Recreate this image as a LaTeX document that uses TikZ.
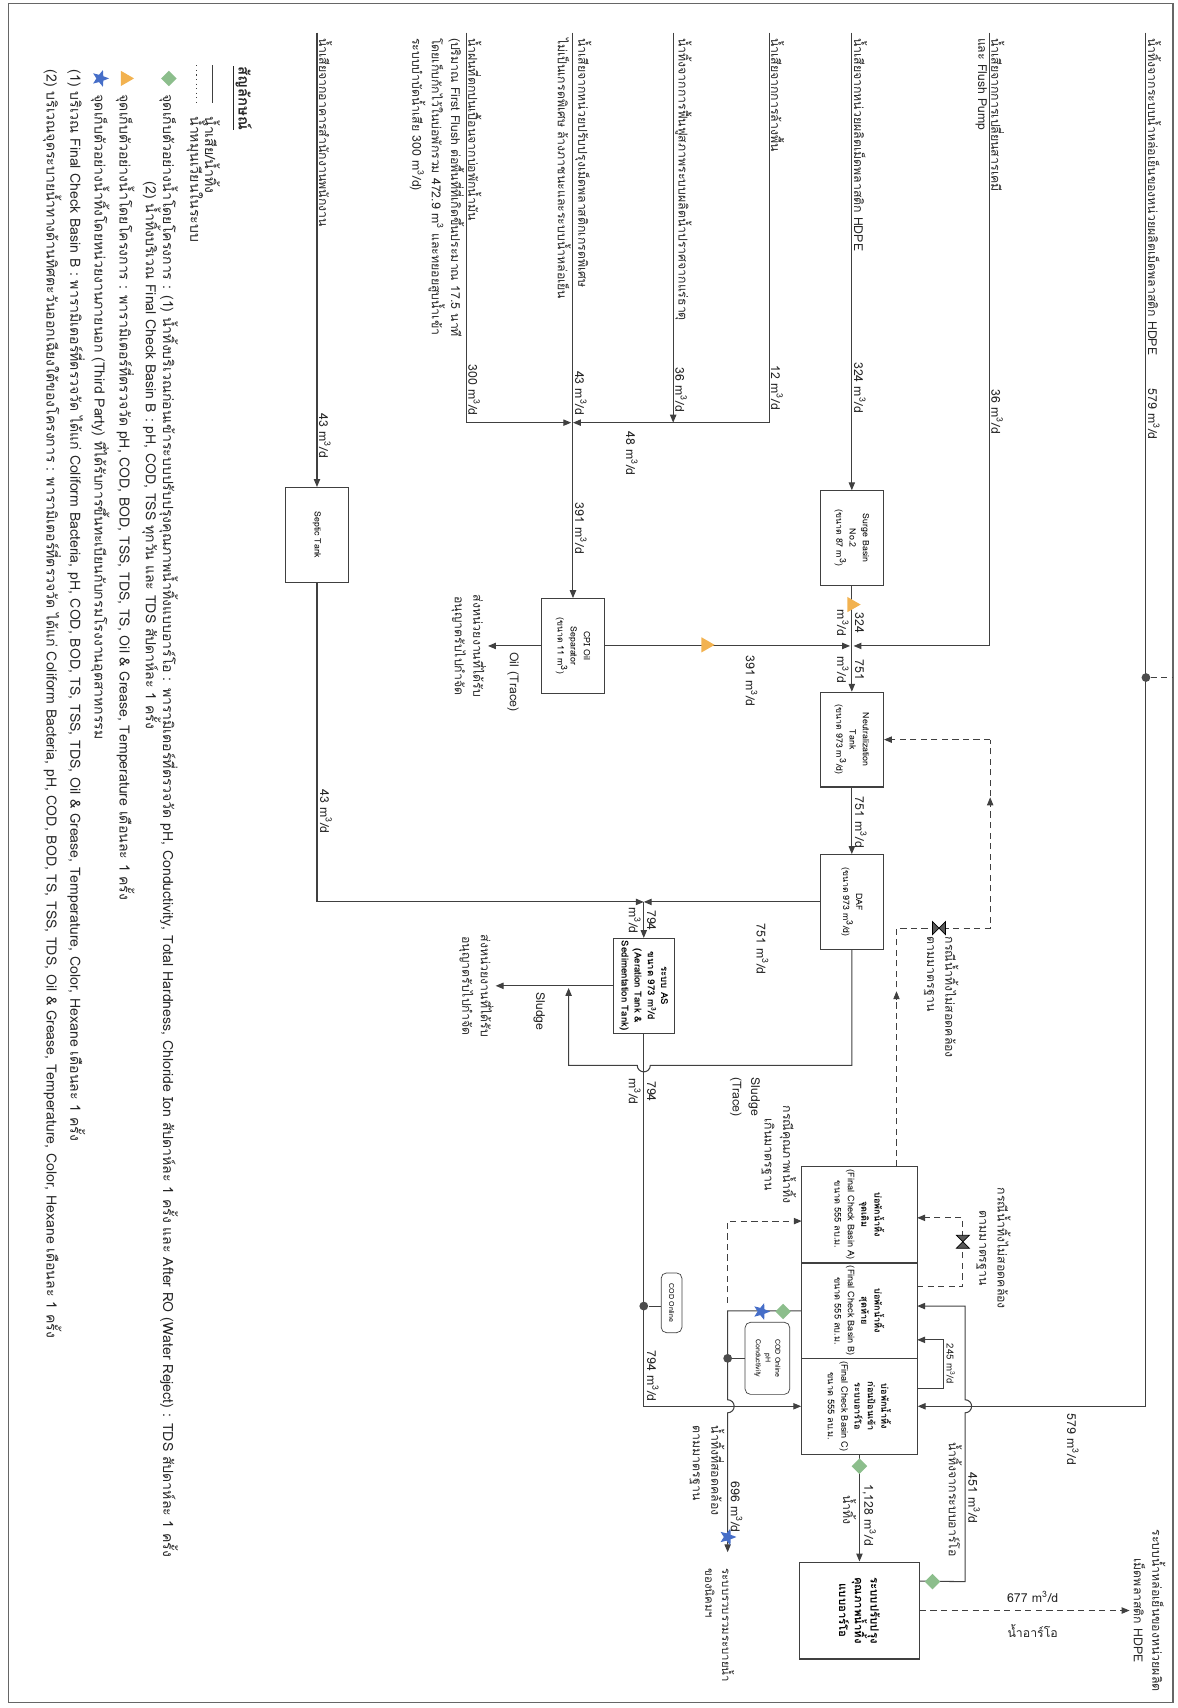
\documentclass[tikz,border=0pt]{standalone}
\usepackage{fontspec}
\setmainfont[Script=Thai]{Loma}
\usetikzlibrary{arrows.meta,shapes.geometric,calc}

\definecolor{sampgreen}{RGB}{140,190,140}
\definecolor{samporange}{RGB}{242,178,80}
\definecolor{sampblue}{RGB}{70,110,200}
\newcommand{\mcd}{m\textsuperscript{3}/d}
\newcommand{\cum}{m\textsuperscript{3}}

\tikzset{
  pipe/.style={draw=black!75, line width=0.6pt},
  flow/.style={pipe, -{Triangle[length=4.5pt,width=3.6pt]}},
  recyc/.style={pipe, dash pattern=on 3.5pt off 2.5pt},
  recflow/.style={recyc, -{Triangle[length=4.5pt,width=3.6pt]}},
  tank/.style={draw=black!75, line width=0.6pt, align=center, inner sep=1pt,
    font=\fontsize{5}{7.5}\selectfont, minimum width=53.9pt, minimum height=36pt},
  basin/.style={tank, font=\fontsize{5.2}{7.6}\selectfont, minimum width=54.6pt, minimum height=65.7pt},
  probe/.style={draw=black!75, rounded corners=3pt, align=center, inner sep=1pt,
    font=\fontsize{4}{5.5}\selectfont},
  txt/.style={inner sep=1pt, align=center, text=black!85, font=\fontsize{7}{10.5}\selectfont},
  small/.style={txt, font=\fontsize{5.5}{7.5}\selectfont},
  legend/.style={txt, font=\fontsize{8}{10}\selectfont},
  gdia/.style={diamond, fill=sampgreen, minimum size=9pt, inner sep=0pt},
  otri/.style={regular polygon, regular polygon sides=3, fill=samporange, minimum size=10pt, inner sep=0pt},
  bstar/.style={star, star points=5, star point ratio=2.3, fill=sampblue, minimum size=10pt, inner sep=0pt},
  dot/.style={circle, fill=black!70, minimum size=5pt, inner sep=0pt},
  valve/.style={fill=black!65},
}

\begin{document}
\begin{tikzpicture}[x=0.62pt, y=0.62pt]
\useasboundingbox (0,0) rectangle (1081,-1568);
\begin{scope}[rotate=-90, transform shape]
% frame
\draw[black!60, line width=0.8pt] (3,8) rectangle (1563,1077);

% tanks
\node[tank] (surge) at (494,782) {Surge Basin\\No.2\\(ขนาด 87 \cum)};
\node[tank] (neut) at (679,782) {Neutralization\\Tank\\(ขนาด 973 \mcd)};
\node[tank] (daf) at (828,782) {DAF\\(ขนาด 973 \mcd)};
\node[tank] (cpi) at (593,526) {CPI Oil\\Separator\\(ขนาด 11 \cum)};
\node[tank] (septic) at (491,291) {Septic Tank};
\node[tank, minimum height=34.7pt, font=\bfseries\fontsize{5.5}{7.5}\selectfont] (as) at (905,591)
  {ระบบ AS\\ขนาด 973 \mcd\\(Aeration Tank \&\\Sedimentation Tank)};
\node[basin] (bA) at (1115,789) {\textbf{บ่อพักน้ำทิ้ง}\\\textbf{จุดเดิม}\\(Final Check Basin A)\\ขนาด 555 ลบ.ม.};
\node[basin] (bB) at (1203.5,789) {\textbf{บ่อพักน้ำทิ้ง}\\\textbf{สุดท้าย}\\(Final Check Basin B)\\ขนาด 555 ลบ.ม.};
\node[basin] (bC) at (1291,789) {\textbf{บ่อพักน้ำทิ้ง}\\\textbf{ก่อนป้อนเข้า}\\\textbf{ระบบอาร์โอ}\\(Final Check Basin C)\\ขนาด 555 ลบ.ม.};
\node[basin, minimum width=55.2pt, minimum height=68.2pt, font=\bfseries\fontsize{6.5}{9}\selectfont] (ro) at (1478.5,789)
  {ระบบปรับปรุง\\คุณภาพน้ำทิ้ง\\แบบอาร์โอ};
\node[probe, minimum width=34pt, minimum height=11.8pt] (cod1) at (1196,616.5) {COD Online};
\node[probe, minimum width=41pt, minimum height=25.4pt] (cod2) at (1247,704.5) {COD Online\\pH\\Conductivity};

% junctions
\coordinate (j1) at (593,782);
\coordinate (j2) at (828,591);
\coordinate (j3) at (388,526);

% input lines
\coordinate (s1) at (30,1052);
\coordinate (s2) at (30,908);
\coordinate (s3) at (30,782);
\coordinate (s4) at (30,706);
\coordinate (s5) at (30,618);
\coordinate (s6) at (30,526);
\coordinate (s7) at (30,428);
\coordinate (s8) at (30,291);

\draw[flow] (s1) -| (bC.north);
\node[dot] (p1) at (622,1052) {};
\draw[recyc] (p1) -- (622,1077);
\draw[flow, shorten >=1pt] (s2) -| (j1);
\draw[flow] (s3) -- (surge.west);
\draw[pipe] (surge.east) -- (j1);
\draw[flow] (j1) -- (neut.west);
\draw[flow, shorten >=1pt] (cpi.north) -- (j1);
\draw[flow] (s4) -- (388,706) -- (j3);
\draw[flow] (s5) -- (388,618);
\draw[flow] (s6) -- (cpi.west);
\draw[flow, shorten >=1pt] (s7) -| (j3);
\draw[flow] (s8) -- (septic.west);
\draw[flow] (septic.east) -| (j2);
\draw[flow] (neut.east) -- (daf.west);
\draw[flow] (daf.south) -- (j2);
\draw[flow] (j2) -- (as.west);

% oil and sludge
\coordinate (oil) at (593,448);
\coordinate (sl) at (905,455);
\draw[flow] (cpi.south) -- (oil);
\draw[flow] (as.south) -- (sl);
\draw[flow] (daf.east) -- (978,782) -- (978,597) arc[start angle=90, end angle=-90, radius=6]
  -- (978,522) -- (907,522);

% to final check basins
\draw[flow] (as.east) -| (bC.south);
\node[dot] (t1) at (1199,591) {};
\draw[pipe] (t1) -- (t1 |- cod1.south);
\draw[flow] (bB.south) |- (1285,668) arc[start angle=180, end angle=0, radius=6] -- (1425,668);
\node[dot] (t2) at (1247,668) {};
\draw[pipe] (t2) -- (t2 |- cod2.south);
\draw[recflow] (1196,668) -- (1121,668) -- (1121,736);
\draw[flow] (bC.east) -- (ro.west);
\draw[flow] ($(ro.north west)+(18,0)$) -- (1452,886) -- (1297,886) arc[start angle=0, end angle=180, radius=6]
  -- (1199,886) -- (1199,842);
\draw[flow] (1275,842) -- (1275,866) -- (1230,866) -- (1230,842);
\draw[recflow] (ro.north) -- (1478.5,1037);

% return when out of standard
\draw[recyc] (1071,823) -- (852,823) -- (852,909) -- (679,909);
\draw[recflow] (679,909) -- (neut.north);
\draw[-{Triangle[length=4.5pt,width=3.6pt]}, black!75] (918,823) -- (910,823);
\draw[-{Triangle[length=4.5pt,width=3.6pt]}, black!75] (740,909) -- (732,909);
\filldraw[valve] (846,856) -- (858,856) -- (846,868) -- (858,868) -- cycle;
\draw[recflow] (1181,842) -- (1181,884) -- (1118,884) -- (1118,842);
\filldraw[valve] (1134,878) -- (1134,890) -- (1146,878) -- (1146,890) -- cycle;

% sampling points
\node[otri] (o1) at (555,782) {};
\node[otri] (o2) at (592,648) {};
\node[gdia] (g1) at (1204,719) {};
\node[bstar] (b1) at (1204,699) {};
\node[bstar] (b2) at (1411,668) {};
\node[gdia] (g2) at (1346,789) {};
\node[gdia] (g3) at (1452,856) {};

% input labels
\node[txt, anchor=south west] (n1) at (33,1052) {น้ำทิ้งจากระบบน้ำหล่อเย็นของหน่วยผลิตเม็ดพลาสติก HDPE};
\node[txt, anchor=south west] (n2) at (33,908) {น้ำเสียจากการเปลี่ยนสารเคมี};
\node[txt, anchor=north west] (n2b) at (33,908) {และ Flush Pump};
\node[txt, anchor=south west] (n3) at (33,782) {น้ำเสียจากหน่วยผลิตเม็ดพลาสติก HDPE};
\node[txt, anchor=south west] (n4) at (33,706) {น้ำเสียจากการล้างพื้น};
\node[txt, anchor=south west] (n5) at (33,618) {น้ำทิ้งจากการฟื้นฟูสภาพระบบผลิตน้ำปราศจากแร่ธาตุ};
\node[txt, anchor=south west] (n6) at (33,526) {น้ำเสียจากหน่วยปรับปรุงเม็ดพลาสติกเกรดพิเศษ};
\node[txt, anchor=north west] (n6b) at (33,526) {ไม่เป็นเกรดพิเศษ ล้างภาชนะและระบบน้ำหล่อเย็น};
\node[txt, anchor=south west] (n7) at (33,428) {น้ำฝนที่ตกปนเปื้อนจากบ่อพักน้ำมัน};
\node[txt, anchor=north west, align=left, font=\fontsize{7}{11}\selectfont] (n7b) at (33,428)
  {(ปริมาณ First Flush ต่อพื้นที่ที่เกิดขึ้นประมาณ 17.5 นาที\\โดยเก็บกักไว้ในบ่อพักรวม 472.9 \cum\ และทยอยสูบน้ำเข้า\\ระบบบำบัดน้ำเสีย 300 \mcd)};
\node[txt, anchor=south west] (n8) at (33,291) {น้ำเสียจากอาคารสำนักงานพนักงาน};

% flow values
\node[txt, anchor=south] (q1) at (380,1052) {579 \mcd};
\node[txt, anchor=south] (q2) at (378,908) {36 \mcd};
\node[txt, anchor=south] (q3) at (356,782) {324 \mcd};
\node[txt, anchor=south] (q4) at (356,706) {12 \mcd};
\node[txt, anchor=south] (q5) at (358,618) {36 \mcd};
\node[txt, anchor=south] (q6) at (361,526) {43 \mcd};
\node[txt, anchor=south] (q7) at (358,428) {300 \mcd};
\node[txt, anchor=south] (q8) at (400,291) {43 \mcd};
\node[txt, anchor=west] (q9) at (394,580) {48 \mcd};
\node[txt, anchor=south] (q10) at (485,526) {391 \mcd};
\node[txt, anchor=west] (q11) at (600,690) {391 \mcd};
\node[txt, anchor=south] (q12) at (572,783) {324};
\node[txt, anchor=north] (q12b) at (572,781) {\mcd};
\node[txt, anchor=south] (q13) at (615,783) {751};
\node[txt, anchor=north] (q13b) at (615,781) {\mcd};
\node[txt, anchor=south] (q14) at (755,783) {751 \mcd};
\node[txt, anchor=west] (q15) at (846,700) {751 \mcd};
\node[txt, anchor=south] (q16) at (745,292) {43 \mcd};
\node[txt, anchor=south] (q17) at (845,592) {794};
\node[txt, anchor=north] (q17b) at (845,590) {\mcd};
\node[txt, anchor=south] (q18) at (1002,592) {794};
\node[txt, anchor=north] (q18b) at (1002,590) {\mcd};
\node[txt, anchor=south west] (q19) at (1238,592) {794 \mcd};
\node[txt, anchor=west] (q20) at (1296,985) {579 \mcd};
\node[small, anchor=south] (q21) at (1252,867) {245 \mcd};
\node[txt, anchor=south west] (q22) at (1350,887) {451 \mcd};
\node[txt, anchor=north west] (q22b) at (1322,885) {น้ำทิ้งจากระบบอาร์โอ};
\node[txt, anchor=south west] (q23) at (1361,790) {1,128 \mcd};
\node[txt, anchor=north west] (q23b) at (1371,788) {น้ำทิ้ง};
\node[txt, anchor=south west] (q24) at (1358,669) {696 \mcd};
\node[txt, anchor=north west, align=left] (q24b) at (1307,667) {น้ำทิ้งที่สอดคล้อง\\ตามมาตรฐาน};
\node[txt, rotate=90] (q25) at (1466,948) {677 \mcd};
\node[txt, rotate=90] (q25b) at (1497,948) {น้ำอาร์โอ};

% destinations and notes
\node[txt, anchor=west] (oilt) at (597,471) {Oil (Trace)};
\node[txt, anchor=north] (oild) at (oil) {ส่งหน่วยงานที่ได้รับ\\อนุญาตรับไปกำจัด};
\node[txt, anchor=west] (slt) at (909,495) {Sludge};
\node[txt, anchor=north] (sld) at (sl) {ส่งหน่วยงานที่ได้รับ\\อนุญาตรับไปกำจัด};
\node[txt] (slt2) at (1007,684) {Sludge\\(Trace)};
\node[txt] (exc) at (1060,715) {กรณีคุณภาพน้ำทิ้ง\\เกินมาตรฐาน};
\node[txt, anchor=west, align=left] (nc1) at (858,864) {กรณีน้ำทิ้งไม่สอดคล้อง\\ตามมาตรฐาน};
\node[txt] (nc2) at (1146,912) {กรณีน้ำทิ้งไม่สอดคล้อง\\ตามมาตรฐาน};
\node[txt, anchor=north west, align=left, font=\fontsize{6.5}{9.5}\selectfont] (drain) at (1438,676) {ระบบรวบรวมระบายน้ำ\\ของนิคมฯ};
\node[txt, anchor=south] (tgt) at (1478.5,1039) {ระบบน้ำหล่อเย็นของหน่วยผลิต\\เม็ดพลาสติก HDPE};

% legend
\node[txt, font=\bfseries\fontsize{8.5}{10}\selectfont] (lgtitle) at (90,222) {\underline{สัญลักษณ์}};
\draw[pipe] (60,195) -- (95,195);
\node[legend, anchor=west] (lg1) at (105,195) {น้ำเสีย/น้ำทิ้ง};
\draw[pipe, dotted] (60,180) -- (95,180);
\node[legend, anchor=west] (lg2) at (105,180) {น้ำหมุนเวียนในระบบ};
\node[gdia] (lgdia) at (72,155) {};
\node[legend, anchor=west] (lg3) at (85,155) {จุดเก็บตัวอย่างน้ำโดยโครงการ : (1) น้ำทิ้งบริเวณก่อนเข้าระบบปรับปรุงคุณภาพน้ำทิ้งแบบอาร์โอ : พารามิเตอร์ที่ตรวจวัด pH, Conductivity, Total Hardness, Chloride Ion สัปดาห์ละ 1 ครั้ง และ After RO (Water Reject) : TDS สัปดาห์ละ 1 ครั้ง};
\node[legend, anchor=west] (lg3b) at (165,139) {(2) น้ำทิ้งบริเวณ Final Check Basin B : pH, COD, TSS ทุกวัน และ TDS สัปดาห์ละ 1 ครั้ง};
\node[otri] (lgtri) at (72,115) {};
\node[legend, anchor=west] (lg4) at (85,115) {จุดเก็บตัวอย่างน้ำโดยโครงการ : พารามิเตอร์ที่ตรวจวัด pH, COD, BOD, TSS, TDS, TS, Oil \& Grease, Temperature เดือนละ 1 ครั้ง};
\node[bstar] (lgstar) at (72,92) {};
\node[legend, anchor=west] (lg5) at (85,92) {จุดเก็บตัวอย่างน้ำทิ้งโดยหน่วยงานภายนอก (Third Party) ที่ได้รับการขึ้นทะเบียนกับกรมโรงงานอุตสาหกรรม};
\node[legend, anchor=west] (lg6) at (62,70) {(1) บริเวณ Final Check Basin B : พารามิเตอร์ที่ตรวจวัด ได้แก่ Coliform Bacteria, pH, COD, BOD, TS, TSS, TDS, Oil \& Grease, Temperature, Color, Hexane เดือนละ 1 ครั้ง};
\node[legend, anchor=west] (lg7) at (62,48) {(2) บริเวณจุดระบายน้ำทางด้านทิศตะวันออกเฉียงใต้ของโครงการ : พารามิเตอร์ที่ตรวจวัด ได้แก่ Coliform Bacteria, pH, COD, BOD, TS, TSS, TDS, Oil \& Grease, Temperature, Color, Hexane เดือนละ 1 ครั้ง};
\end{scope}
\end{tikzpicture}
\end{document}
